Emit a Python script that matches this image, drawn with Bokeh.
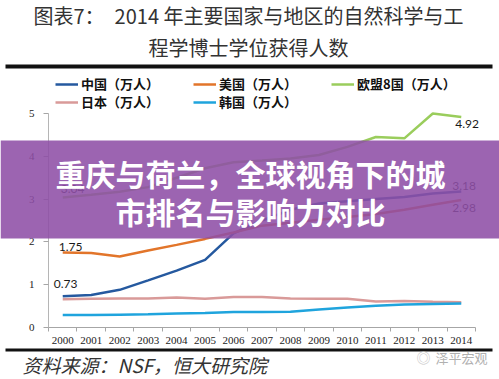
from bokeh.plotting import figure
from bokeh.models import Range1d, FixedTicker, Legend, LegendItem, Label, BoxAnnotation
from bokeh.embed import file_html
from bokeh.resources import INLINE

# ---- data ----
YEARS = list(range(2000, 2015))
CHINA = [0.73, 0.76, 0.88, 1.10, 1.33, 1.58, 2.20, 2.50, 2.75, 2.90, 2.95, 3.00, 3.05, 3.13, 3.18]
USA = [1.75, 1.74, 1.66, 1.80, 1.93, 2.07, 2.22, 2.38, 2.45, 2.52, 2.58, 2.65, 2.75, 2.87, 2.98]
EU8 = [3.04, 3.10, 3.17, 3.28, 3.50, 3.72, 3.86, 3.90, 3.95, 4.03, 4.22, 4.45, 4.42, 5.00, 4.92]
JAPAN = [0.66, 0.67, 0.68, 0.68, 0.70, 0.67, 0.71, 0.71, 0.68, 0.67, 0.67, 0.61, 0.62, 0.60, 0.59]
KOREA = [0.29, 0.29, 0.30, 0.31, 0.33, 0.34, 0.36, 0.36, 0.37, 0.42, 0.47, 0.51, 0.54, 0.55, 0.56]
Y_TICKS = [0, 1, 2, 3, 4, 5]
SERIES_NAMES = ["中国（万人）", "美国（万人）", "欧盟8国（万人）", "日本（万人）", "韩国（万人）"]
TITLE_LINES = ["图表7：　2014 年主要国家与地区的自然科学与工", "程学博士学位获得人数"]
BANNER_LINES = ["重庆与荷兰，全球视角下的城", "市排名与影响力对比"]
SOURCE = "资料来源：NSF，恒大研究院"
WATERMARK = "泽平宏观"

# ---- style / layout (pixel geometry) ----
C_CN = "#25599f"
C_US = "#e2752a"
C_EU = "#9acd5c"
C_JP = "#d99a99"
C_KR = "#1fa4dd"
CJK = "Noto Sans CJK SC"
W, H = 499, 379
AX_L, AX_R, AX_T, AX_B = 48, 475, 113, 327   # data area in canvas px

x_lo, x_hi = YEARS[0] - 0.5, YEARS[-1] + 0.5
y_lo, y_hi = Y_TICKS[0], Y_TICKS[-1]
kx = (AX_R - AX_L) / (x_hi - x_lo)
ky = (AX_B - AX_T) / (y_hi - y_lo)
x_range = Range1d(x_lo - AX_L / kx, x_hi + (W - AX_R) / kx)
y_range = Range1d(y_lo - (H - AX_B) / ky, y_hi + AX_T / ky)


def sx(fx):
    return fx


def sy(fy):
    return H - fy


p = figure(width=W, height=H, output_backend="svg", toolbar_location=None,
           x_range=x_range, y_range=y_range,
           min_border_left=0, min_border_right=0, min_border_top=0,
           min_border_bottom=0, background_fill_color="white",
           border_fill_color="white", outline_line_color=None)
p.title.visible = False
p.xgrid.visible = False
p.ygrid.visible = False

# axes (drawn at fixed data locations inside the canvas)
xa = p.xaxis[0]
xa.fixed_location = y_lo
xa.bounds = (x_lo, x_hi)
xa.ticker = FixedTicker(ticks=YEARS, minor_ticks=[y - 0.5 for y in YEARS] + [YEARS[-1] + 0.5])
xa.major_tick_line_color = None
xa.major_tick_out = 0
xa.major_tick_in = 0
xa.minor_tick_line_color = "#a6a6a6"
xa.minor_tick_out = 4
xa.minor_tick_in = 0
xa.axis_line_color = "#a6a6a6"
xa.major_label_text_font = "Liberation Serif"
xa.major_label_text_font_size = "11px"
xa.major_label_text_color = "#222222"
xa.major_label_standoff = 5

ya = p.yaxis[0]
ya.fixed_location = x_lo
ya.bounds = (y_lo, y_hi)
ya.ticker = FixedTicker(ticks=Y_TICKS, minor_ticks=[])
ya.major_tick_line_color = "#a6a6a6"
ya.major_tick_out = 5
ya.major_tick_in = 0
ya.minor_tick_line_color = None
ya.axis_line_color = "#b5b5b5"
ya.major_label_text_font = "Liberation Serif"
ya.major_label_text_font_size = "11px"
ya.major_label_text_color = "#222222"
ya.major_label_standoff = 9

# lines
LW = 2.5
r_cn = p.line(YEARS, CHINA, line_color=C_CN, line_width=LW)
r_us = p.line(YEARS, USA, line_color=C_US, line_width=LW)
r_eu = p.line(YEARS, EU8, line_color=C_EU, line_width=LW)
r_jp = p.line(YEARS, JAPAN, line_color=C_JP, line_width=LW)
r_kr = p.line(YEARS, KOREA, line_color=C_KR, line_width=LW)


# legends (two rows)
def make_legend(items, row_bottom_fy):
    return Legend(items=items, orientation="horizontal",
                  location=(55, sy(row_bottom_fy)),
                  padding=0, margin=0, spacing=34, label_standoff=3,
                  glyph_width=23, glyph_height=16, label_height=16,
                  label_text_font=CJK, label_text_font_size="13px",
                  label_text_font_style="bold", label_text_color="#111111",
                  background_fill_alpha=0, border_line_color=None)


leg1 = make_legend([LegendItem(label=SERIES_NAMES[0], renderers=[r_cn]),
                    LegendItem(label=SERIES_NAMES[1], renderers=[r_us]),
                    LegendItem(label=SERIES_NAMES[2], renderers=[r_eu])], 93)
leg2 = make_legend([LegendItem(label=SERIES_NAMES[3], renderers=[r_jp]),
                    LegendItem(label=SERIES_NAMES[4], renderers=[r_kr])], 111)
p.add_layout(leg1, "center")
p.add_layout(leg2, "center")


# value labels
def vlabel(x, y, xo, yo):
    p.add_layout(Label(x=x, y=y, text=f"{y:.2f}", x_offset=xo, y_offset=yo,
                       text_font="Lato", text_font_size="12px", text_color="#1a1a1a",
                       text_baseline="middle", text_align="left"))


vlabel(YEARS[0], EU8[0], -2, 8)
vlabel(YEARS[0], USA[0], -4, 6)
vlabel(YEARS[0], CHINA[0], -9, 12)
vlabel(YEARS[-1], EU8[-1], -6, -7)
vlabel(YEARS[-1], CHINA[-1], -9, 5)
vlabel(YEARS[-1], USA[-1], -9, -8)

# title and rules
for i, t in enumerate(TITLE_LINES):
    p.add_layout(Label(x=sx(248), y=sy(15 + 32 * i), x_units="screen", y_units="screen",
                       text=t, text_font=CJK, text_font_size="20px",
                       text_color="#333333", text_align="center", text_baseline="middle"))

for top, bot in [(64, 68), (348, 351)]:
    p.add_layout(BoxAnnotation(left=sx(5), right=sx(492), top=sy(top), bottom=sy(bot),
                               left_units="screen", right_units="screen",
                               top_units="screen", bottom_units="screen",
                               fill_color="#111111", fill_alpha=1, line_color=None))

# source and watermark
p.add_layout(Label(x=sx(22), y=sy(364), x_units="screen", y_units="screen",
                   text=SOURCE, text_font=CJK, text_font_size="19px", text_font_style="italic",
                   text_color="#333333", text_align="left", text_baseline="middle"))
p.add_layout(Label(x=sx(416), y=sy(356), x_units="screen", y_units="screen",
                   text="◎", text_font=CJK, text_font_size="14px",
                   text_color="#c8c8c8", text_align="left", text_baseline="middle"))
p.add_layout(Label(x=sx(435), y=sy(357), x_units="screen", y_units="screen",
                   text=WATERMARK, text_font=CJK, text_font_size="13px",
                   text_color="#b0b0b0", text_align="left", text_baseline="middle"))

# banner overlay
p.add_layout(BoxAnnotation(left=0, right=W, top=sy(140), bottom=sy(238),
                           left_units="screen", right_units="screen",
                           top_units="screen", bottom_units="screen",
                           fill_color="#8e4fa6", fill_alpha=0.88, line_color=None,
                           level="overlay"))
for i, t in enumerate(BANNER_LINES):
    p.add_layout(Label(x=sx(250), y=sy(172 + 38 * i), x_units="screen", y_units="screen",
                       text=t, text_font=CJK, text_font_size="30px", text_font_style="bold",
                       text_color="white", text_align="center", text_baseline="middle",
                       level="overlay"))

open("out.html", "w").write(file_html(p, INLINE))
